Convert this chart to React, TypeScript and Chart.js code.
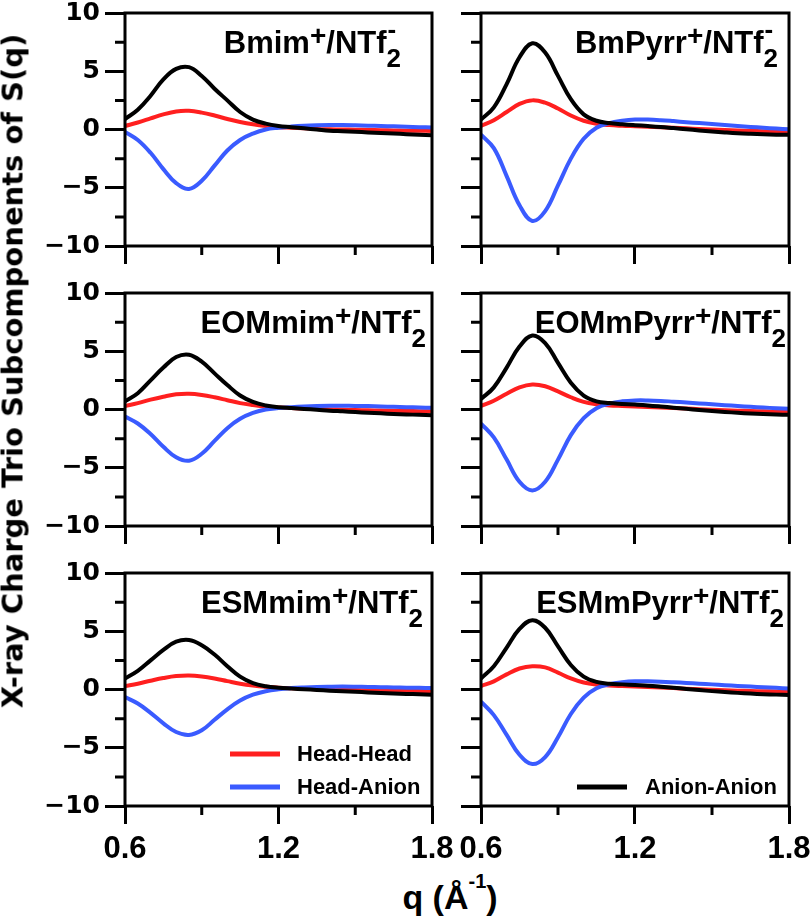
import React, { useEffect, useRef } from 'react';
import { Chart, registerables } from 'chart.js';

Chart.register(...registerables);

// ---------------- data ----------------
const Q = [0.6, 0.65, 0.7, 0.75, 0.8, 0.85, 0.9, 0.95, 1.0, 1.05, 1.1, 1.15, 1.2, 1.25, 1.3, 1.35, 1.4, 1.45, 1.5, 1.55, 1.6, 1.65, 1.7, 1.75, 1.8];

const CATIONS = ['Bmim', 'BmPyrr', 'EOMmim', 'EOMmPyrr', 'ESMmim', 'ESMmPyrr'];
const SERIES_LABELS = ['Head-Head', 'Head-Anion', 'Anion-Anion'];
const X_TICKS = [0.6, 1.2, 1.8];
const X_MINOR = [0.9, 1.5];
const Y_TICKS = [-10, -5, 0, 5, 10];
const Y_MINOR = [-7.5, -2.5, 2.5, 7.5];

// Bmim+/NTf2-
const HH_BMIM = [0.3, 0.6, 0.95, 1.3, 1.55, 1.6, 1.45, 1.2, 0.9, 0.65, 0.45, 0.3, 0.2, 0.15, 0.1, 0.05, 0.02, 0, -0.02, -0.04, -0.06, -0.08, -0.1, -0.11, -0.12];
const HA_BMIM = [-0.2, -0.9, -2.0, -3.4, -4.6, -5.1, -4.4, -3.1, -1.8, -0.9, -0.35, 0.0, 0.15, 0.25, 0.32, 0.36, 0.38, 0.38, 0.36, 0.33, 0.3, 0.27, 0.23, 0.2, 0.17];
const AA_BMIM = [0.9, 1.7, 2.9, 4.3, 5.2, 5.35, 4.6, 3.5, 2.5, 1.5, 0.85, 0.5, 0.3, 0.2, 0.1, 0.0, -0.1, -0.15, -0.2, -0.25, -0.3, -0.35, -0.4, -0.45, -0.5];

// BmPyrr+/NTf2-
const HH_BMPYRR = [0.3, 0.8, 1.5, 2.2, 2.5, 2.3, 1.8, 1.2, 0.75, 0.5, 0.38, 0.32, 0.28, 0.24, 0.2, 0.15, 0.1, 0.05, 0.0, -0.05, -0.09, -0.12, -0.15, -0.17, -0.19];
const HA_BMPYRR = [-0.45, -1.6, -4.0, -6.5, -7.85, -7.0, -4.8, -2.5, -0.8, 0.15, 0.55, 0.75, 0.85, 0.85, 0.8, 0.72, 0.63, 0.55, 0.47, 0.38, 0.3, 0.22, 0.15, 0.08, 0.02];
const AA_BMPYRR = [0.85, 1.9, 3.9, 6.2, 7.4, 6.6, 4.6, 2.6, 1.3, 0.75, 0.55, 0.45, 0.37, 0.3, 0.22, 0.12, 0.02, -0.08, -0.17, -0.25, -0.32, -0.37, -0.41, -0.44, -0.46];

// EOMmim+/NTf2-
const HH_EOMMIM = [0.3, 0.55, 0.85, 1.1, 1.3, 1.35, 1.25, 1.05, 0.8, 0.55, 0.38, 0.25, 0.18, 0.12, 0.08, 0.04, 0.01, -0.02, -0.05, -0.07, -0.09, -0.11, -0.13, -0.14, -0.15];
const HA_EOMMIM = [-0.6, -1.2, -2.1, -3.2, -4.1, -4.4, -3.8, -2.7, -1.6, -0.8, -0.3, 0.0, 0.12, 0.2, 0.26, 0.3, 0.32, 0.32, 0.31, 0.29, 0.26, 0.23, 0.2, 0.17, 0.14];
const AA_EOMMIM = [0.7, 1.4, 2.5, 3.6, 4.5, 4.7, 4.1, 3.1, 2.1, 1.2, 0.65, 0.35, 0.2, 0.12, 0.05, -0.02, -0.1, -0.16, -0.22, -0.28, -0.33, -0.38, -0.42, -0.46, -0.5];

// EOMmPyrr+/NTf2-
const HH_EOMMPYRR = [0.3, 0.75, 1.35, 1.9, 2.15, 2.0, 1.55, 1.05, 0.65, 0.45, 0.35, 0.3, 0.26, 0.22, 0.18, 0.13, 0.08, 0.03, -0.02, -0.06, -0.1, -0.13, -0.16, -0.18, -0.2];
const HA_EOMMPYRR = [-1.2, -2.4, -4.3, -6.2, -6.95, -6.2, -4.3, -2.2, -0.75, 0.1, 0.5, 0.7, 0.78, 0.78, 0.74, 0.67, 0.6, 0.52, 0.45, 0.37, 0.3, 0.23, 0.17, 0.11, 0.06];
const AA_EOMMPYRR = [0.9, 1.9, 3.6, 5.4, 6.35, 5.7, 4.0, 2.3, 1.2, 0.7, 0.55, 0.48, 0.42, 0.35, 0.26, 0.16, 0.06, -0.04, -0.13, -0.21, -0.28, -0.34, -0.39, -0.43, -0.46];

// ESMmim+/NTf2-
const HH_ESMMIM = [0.3, 0.5, 0.75, 0.98, 1.15, 1.2, 1.12, 0.95, 0.72, 0.5, 0.34, 0.23, 0.16, 0.11, 0.07, 0.03, 0.0, -0.03, -0.05, -0.07, -0.09, -0.11, -0.12, -0.13, -0.14];
const HA_ESMMIM = [-0.65, -1.2, -2.0, -2.9, -3.65, -3.9, -3.5, -2.6, -1.7, -0.95, -0.45, -0.15, 0.02, 0.12, 0.18, 0.22, 0.24, 0.25, 0.24, 0.22, 0.2, 0.18, 0.16, 0.14, 0.12];
const AA_ESMMIM = [0.95, 1.6, 2.5, 3.4, 4.1, 4.25, 3.8, 3.0, 2.0, 1.1, 0.55, 0.28, 0.15, 0.08, 0.02, -0.04, -0.1, -0.15, -0.2, -0.25, -0.3, -0.34, -0.38, -0.41, -0.44];

// ESMmPyrr+/NTf2-
const HH_ESMMPYRR = [0.3, 0.7, 1.3, 1.8, 2.0, 1.9, 1.45, 0.95, 0.6, 0.42, 0.34, 0.29, 0.25, 0.21, 0.17, 0.12, 0.07, 0.02, -0.02, -0.06, -0.1, -0.13, -0.15, -0.17, -0.18];
const HA_ESMMPYRR = [-1.05, -2.2, -3.9, -5.6, -6.4, -5.8, -4.1, -2.1, -0.7, 0.1, 0.45, 0.62, 0.7, 0.7, 0.67, 0.62, 0.56, 0.5, 0.44, 0.37, 0.31, 0.25, 0.19, 0.14, 0.09];
const AA_ESMMPYRR = [0.95, 2.0, 3.6, 5.2, 5.95, 5.3, 3.7, 2.1, 1.1, 0.65, 0.5, 0.44, 0.38, 0.32, 0.24, 0.15, 0.05, -0.05, -0.14, -0.22, -0.29, -0.35, -0.4, -0.44, -0.47];

const PANEL_SERIES = [
  [HH_BMIM, HA_BMIM, AA_BMIM],
  [HH_BMPYRR, HA_BMPYRR, AA_BMPYRR],
  [HH_EOMMIM, HA_EOMMIM, AA_EOMMIM],
  [HH_EOMMPYRR, HA_EOMMPYRR, AA_EOMMPYRR],
  [HH_ESMMIM, HA_ESMMIM, AA_ESMMIM],
  [HH_ESMMPYRR, HA_ESMMPYRR, AA_ESMMPYRR],
];

// ---------------- style / layout ----------------
const COLORS = ['#ff1f1f', '#3a5bff', '#000000'];
const SANS = '"Liberation Sans", Arial, Helvetica, sans-serif';
const WIDE = '"DejaVu Sans", sans-serif';
const TITLE_RIGHT_GAP = [31, 11, 6, 3, 9, 5];
const LEGENDS: Record<number, { s: number; dy: number }[]> = {
  4: [{ s: 0, dy: 52 }, { s: 1, dy: 19 }],
  5: [{ s: 2, dy: 19 }],
};
const LEGEND_X: Record<number, [number, number, number]> = {
  4: [105, 155, 172],
  5: [96, 146, 164],
};

function fmtY(v: number) {
  return v < 0 ? '\u2212' + Math.abs(v) : String(v);
}

function Panel({ index }: { index: number }) {
  const ref = useRef<HTMLCanvasElement | null>(null);
  const col = index % 2;
  const row = Math.floor(index / 2);
  const left = col === 0 ? 0 : 457;
  const width = col === 0 ? 457 : 353;
  const top = row * 280;
  const height = row === 2 ? 310 : 280;
  const plotTop = 13;
  const plotH = 233;
  const yW = col === 0 ? 125 : 24;
  const padR = col === 0 ? 25 : 21;
  const xH = height - plotTop - plotH;
  const showY = col === 0;
  const showX = row === 2;

  useEffect(() => {
    const canvas = ref.current;
    if (!canvas) return;
    const series = PANEL_SERIES[index];
    const order = [2, 1, 0];
    const datasets = order.map((s) => ({
      label: SERIES_LABELS[s],
      data: Q.map((q, k) => ({ x: q, y: series[s][k] })),
      borderColor: COLORS[s],
      backgroundColor: COLORS[s],
      borderWidth: 4,
      pointRadius: 0,
      tension: 0.4,
      fill: false,
    }));

    const deco = {
      id: 'deco' + index,
      afterDraw(chart: any) {
        const { ctx, chartArea: a, scales } = chart;
        ctx.save();
        ctx.strokeStyle = '#000';
        ctx.lineWidth = 3;
        ctx.lineCap = 'butt';
        ctx.beginPath();
        Y_MINOR.forEach((v) => {
          const y = scales.y.getPixelForValue(v);
          ctx.moveTo(a.left - 10, y);
          ctx.lineTo(a.left, y);
        });
        X_MINOR.forEach((v) => {
          const x = scales.x.getPixelForValue(v);
          ctx.moveTo(x, a.bottom);
          ctx.lineTo(x, a.bottom + 9);
        });
        ctx.stroke();
        ctx.strokeRect(a.left, a.top, a.right - a.left, a.bottom - a.top);

        // panel title
        const big = 'bold 31px ' + SANS;
        const plusF = 'bold 28px ' + SANS;
        const subF = 'bold 26px ' + SANS;
        const name = CATIONS[index];
        ctx.fillStyle = '#000';
        ctx.textAlign = 'left';
        ctx.textBaseline = 'alphabetic';
        ctx.font = big;
        const w1 = ctx.measureText(name).width;
        const w3 = ctx.measureText('/NTf').width;
        ctx.font = plusF;
        const w2 = ctx.measureText('+').width;
        ctx.font = subF;
        const w4 = ctx.measureText('2').width;
        let x = a.right - TITLE_RIGHT_GAP[index] - (w1 + w2 + w3 + w4);
        ctx.font = big;
        ctx.fillText(name, x, a.top + 40);
        x += w1;
        ctx.font = plusF;
        ctx.fillText('+', x, a.top + 32);
        x += w2;
        ctx.font = big;
        ctx.fillText('/NTf', x, a.top + 40);
        x += w3;
        ctx.font = subF;
        ctx.fillText('2', x, a.top + 54);
        ctx.fillText('-', x + 1, a.top + 25);

        // legend
        const entries = LEGENDS[index];
        if (entries) {
          const [x1, x2, tx] = LEGEND_X[index];
          ctx.font = 'bold 22px ' + SANS;
          ctx.textBaseline = 'middle';
          entries.forEach((e) => {
            const y = a.bottom - e.dy;
            ctx.strokeStyle = COLORS[e.s];
            ctx.lineWidth = 5;
            ctx.beginPath();
            ctx.moveTo(a.left + x1, y);
            ctx.lineTo(a.left + x2, y);
            ctx.stroke();
            ctx.fillStyle = '#000';
            ctx.fillText(SERIES_LABELS[e.s], a.left + tx, y + 1);
          });
        }
        ctx.restore();
      },
    };

    const chart = new Chart(canvas, {
      type: 'line',
      data: { datasets } as any,
      options: {
        animation: false,
        responsive: false,
        maintainAspectRatio: false,
        layout: { padding: { left: 0, right: padR, top: plotTop, bottom: 0 } },
        plugins: { legend: { display: false }, tooltip: { enabled: false }, title: { display: false } },
        scales: {
          x: {
            type: 'linear',
            min: 0.6,
            max: 1.8,
            afterBuildTicks: (s: any) => {
              s.ticks = X_TICKS.map((v) => ({ value: v }));
            },
            afterFit: (s: any) => {
              s.height = xH;
              s.paddingLeft = 0;
              s.paddingRight = 0;
            },
            ticks: {
              autoSkip: false,
              maxRotation: 0,
              minRotation: 0,
              padding: 10,
              color: '#000',
              font: { family: SANS, weight: 'bold', size: 31, lineHeight: 1 },
              callback: (v: any) => (showX ? Number(v).toFixed(1) : ''),
            },
            grid: { drawOnChartArea: false, drawTicks: true, tickLength: 18, tickWidth: 3, tickColor: '#000', lineWidth: 3, color: '#000' },
            border: { display: false },
          },
          y: {
            type: 'linear',
            min: -10,
            max: 10,
            afterBuildTicks: (s: any) => {
              s.ticks = Y_TICKS.map((v) => ({ value: v }));
            },
            afterFit: (s: any) => {
              s.width = yW;
              s.paddingTop = 0;
              s.paddingBottom = 0;
            },
            ticks: {
              autoSkip: false,
              padding: 5,
              color: '#000',
              font: { family: WIDE, weight: 'bold', size: 25 },
              callback: (v: any) => (showY ? fmtY(Number(v)) : ''),
            },
            grid: { drawOnChartArea: false, drawTicks: true, tickLength: 20, tickWidth: 3, tickColor: '#000', lineWidth: 3, color: '#000' },
            border: { display: false },
          },
        },
      } as any,
      plugins: [deco],
    });
    return () => chart.destroy();
  }, [index]);

  return (
    <canvas
      ref={ref}
      width={width}
      height={height}
      style={{ position: 'absolute', left, top, width, height }}
    />
  );
}

export default function App() {
  return (
    <div style={{ position: 'absolute', left: 0, top: 0, width: 810, height: 917, background: '#fff', overflow: 'hidden' }}>
      {CATIONS.map((_, i) => (
        <Panel key={i} index={i} />
      ))}
      <div style={{ position: 'absolute', left: 13, top: 371, width: 0, height: 0 }}>
        <div
          style={{
            position: 'absolute',
            left: 0,
            top: 0,
            transform: 'translate(-50%, -50%) rotate(-90deg)',
            whiteSpace: 'nowrap',
            fontFamily: WIDE,
            fontWeight: 'bold',
            fontSize: '29px',
            lineHeight: '29px',
            color: '#000',
          }}
        >
          X-ray Charge Trio Subcomponents of S(q)
        </div>
      </div>
      <div
        style={{
          position: 'absolute',
          left: 300,
          top: 880,
          width: 300,
          textAlign: 'center',
          fontFamily: SANS,
          fontWeight: 'bold',
          fontSize: '34px',
          lineHeight: '34px',
          whiteSpace: 'nowrap',
          color: '#000',
        }}
      >
        q (Å<span style={{ fontSize: '20px', position: 'relative', top: '-21px' }}>-1</span>)
      </div>
    </div>
  );
}
